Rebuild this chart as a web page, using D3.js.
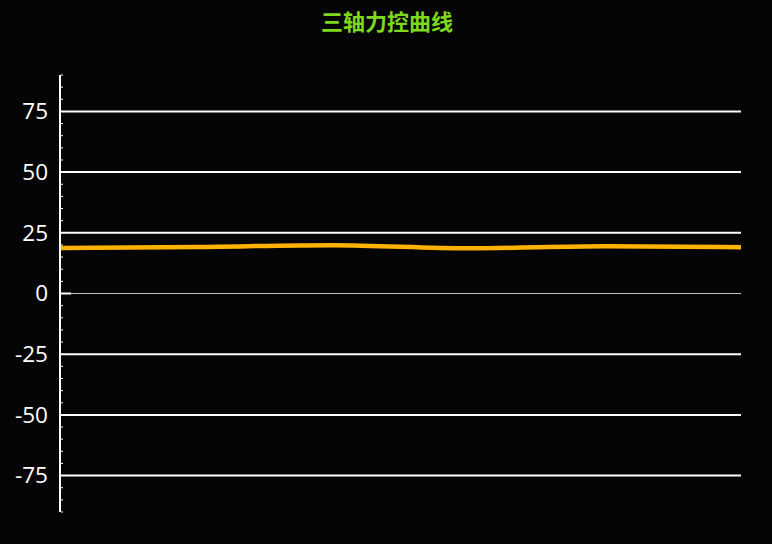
<!DOCTYPE html>
<html>
<head>
<meta charset="utf-8">
<script src="https://cdn.jsdelivr.net/npm/d3@7"></script>
<style>
  html, body { margin: 0; padding: 0; background: #050505; }
  svg { display: block; }
  .tick-label { font-family: "Open Sans", "Noto Sans", sans-serif; font-size: 22.5px; fill: #fff; }
</style>
</head>
<body>
<svg id="chart" width="772" height="544"></svg>
<script>
// chart data
const title = '三轴力控曲线'
const samples = [0, 1, 2, 3, 4, 5]
const force = [18.7, 19.2, 19.9, 18.6, 19.5, 19.1]
const yTicks = [-75, -50, -25, 0, 25, 50, 75]

const svg = d3.select('#chart')
const width = +svg.attr('width'),
    height = +svg.attr('height')

const x = d3.scaleLinear().domain([0, samples.length - 1]).range([61, 741])
const y = d3.scaleLinear().domain([-90, 90]).range([512, 75])

svg.append('rect').attr('width', width).attr('height', height).attr('fill', '#050505')

// title
svg.append('text')
    .attr('x', 387).attr('y', 30)
    .attr('text-anchor', 'middle')
    .attr('font-family', '"Noto Sans CJK SC", sans-serif')
    .attr('font-weight', 'bold')
    .attr('font-size', 22)
    .attr('fill', '#7ed81c')
    .text(title)

// grid lines
svg.append('g').selectAll('line').data(yTicks).enter().append('line')
    .attr('x1', 61).attr('x2', 741)
    .attr('y1', d => y(d)).attr('y2', d => y(d))
    .attr('stroke', d => d === 0 ? '#bdbdbd' : '#ffffff')
    .attr('stroke-width', d => d === 0 ? 1 : 2)

// small tick at zero
svg.append('line')
    .attr('x1', 61).attr('x2', 71)
    .attr('y1', y(0)).attr('y2', y(0))
    .attr('stroke', '#fff').attr('stroke-width', 2)

// minor ticks every 5
svg.append('g').selectAll('line').data(d3.range(-90, 91, 5)).enter().append('line')
    .attr('x1', 61).attr('x2', 63)
    .attr('y1', d => y(d)).attr('y2', d => y(d))
    .attr('stroke', '#fff').attr('stroke-width', 1)

// y axis line
svg.append('line')
    .attr('x1', 60).attr('x2', 60)
    .attr('y1', y(90)).attr('y2', y(-90))
    .attr('stroke', '#fff').attr('stroke-width', 2)

// tick labels
svg.append('g').selectAll('text').data(yTicks).enter().append('text')
    .attr('class', 'tick-label')
    .attr('x', 48)
    .attr('y', d => y(d))
    .attr('dy', '0.35em')
    .attr('text-anchor', 'end')
    .text(d => d)

// force line
const line = d3.line()
    .x((d, i) => x(samples[i]))
    .y(d => y(d))
    .curve(d3.curveMonotoneX)

svg.append('path')
    .datum(force)
    .attr('d', line)
    .attr('fill', 'none')
    .attr('stroke', '#ffb300')
    .attr('stroke-width', 4.5)
</script>
</body>
</html>
